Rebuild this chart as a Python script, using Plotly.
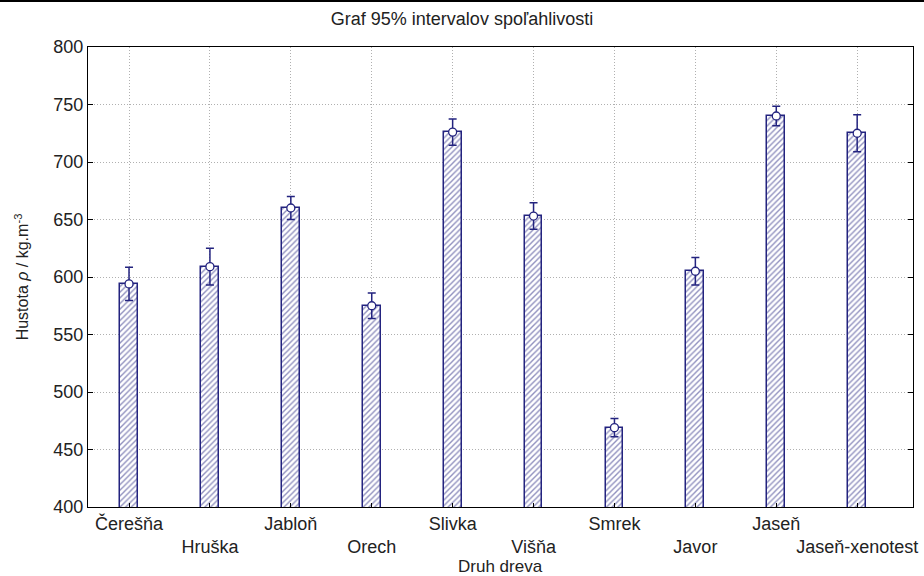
import plotly.graph_objects as go

# Wood species and their mean density with 95 % confidence half-widths
species = ["Čerešňa", "Hruška", "Jabloň", "Orech", "Slivka",
           "Višňa", "Smrek", "Javor", "Jaseň", "Jaseň-xenotest"]
mean_density = [594, 609, 660, 575, 726, 653, 469, 605, 740, 725]
ci_half = [14.5, 16, 10, 11, 11.5, 11.5, 8, 12, 8.5, 16]

y_ticks = [400, 450, 500, 550, 600, 650, 700, 750, 800]

# staggered category labels: every second label drops one line
tick_text = [s if i % 2 == 0 else "<br>" + s for i, s in enumerate(species)]

navy = "#23237f"
font = "Liberation Sans, Arial, sans-serif"
txt = "#222222"

fig = go.Figure()

fig.add_trace(go.Bar(
    x=species,
    y=mean_density,
    width=0.22,
    marker=dict(
        color="white",
        line=dict(color=navy, width=1.5),
        pattern=dict(shape="/", fgcolor=navy, bgcolor="white",
                     size=4, solidity=0.35),
    ),
    showlegend=False,
))

fig.add_trace(go.Scatter(
    x=species,
    y=mean_density,
    mode="markers",
    marker=dict(symbol="circle", size=8, color="white",
                line=dict(color=navy, width=1.3)),
    error_y=dict(type="data", array=ci_half, visible=True,
                 color=navy, thickness=1.5, width=4),
    showlegend=False,
))

grid = dict(showgrid=True, gridcolor="#b0b0b0", griddash="1px,2px", gridwidth=1)

fig.update_xaxes(
    tickmode="array", tickvals=species, ticktext=tick_text, tickangle=0,
    range=[-0.507, 9.69],
    ticks="inside", ticklen=4, tickcolor="black",
    showline=True, linecolor="black", linewidth=1, mirror=True,
    tickfont=dict(family=font, size=18, color=txt),
    automargin=False,
    **grid,
)

fig.update_yaxes(
    range=[400, 800], tickmode="array", tickvals=y_ticks,
    ticks="inside", ticklen=5, tickcolor="black",
    showline=True, linecolor="black", linewidth=1, mirror="ticks",
    tickfont=dict(family=font, size=18, color=txt),
    title=dict(text="Hustota <i>ρ</i> / kg.m<sup>-3</sup>",
               font=dict(family=font, size=16, color=txt), standoff=20),
    zeroline=False, automargin=False,
    **grid,
)

fig.update_layout(
    width=924, height=576,
    margin=dict(l=88, r=11, t=47, b=69),
    paper_bgcolor="white", plot_bgcolor="white",
    bargap=0,
    title=dict(text="Graf 95% intervalov spoľahlivosti",
               font=dict(family=font, size=18, color=txt),
               x=0.5, xanchor="center", y=0.968, yanchor="middle"),
    annotations=[dict(text="Druh dreva", xref="paper", yref="paper",
                      x=0.5, y=-0.13, xanchor="center", yanchor="middle",
                      showarrow=False,
                      font=dict(family=font, size=17, color=txt))],
    shapes=[dict(type="line", xref="paper", yref="paper",
                 x0=-0.2, x1=1.1, y0=1.1, y1=1.1,
                 line=dict(color="black", width=2))],
)

fig.write_html("out.html")
